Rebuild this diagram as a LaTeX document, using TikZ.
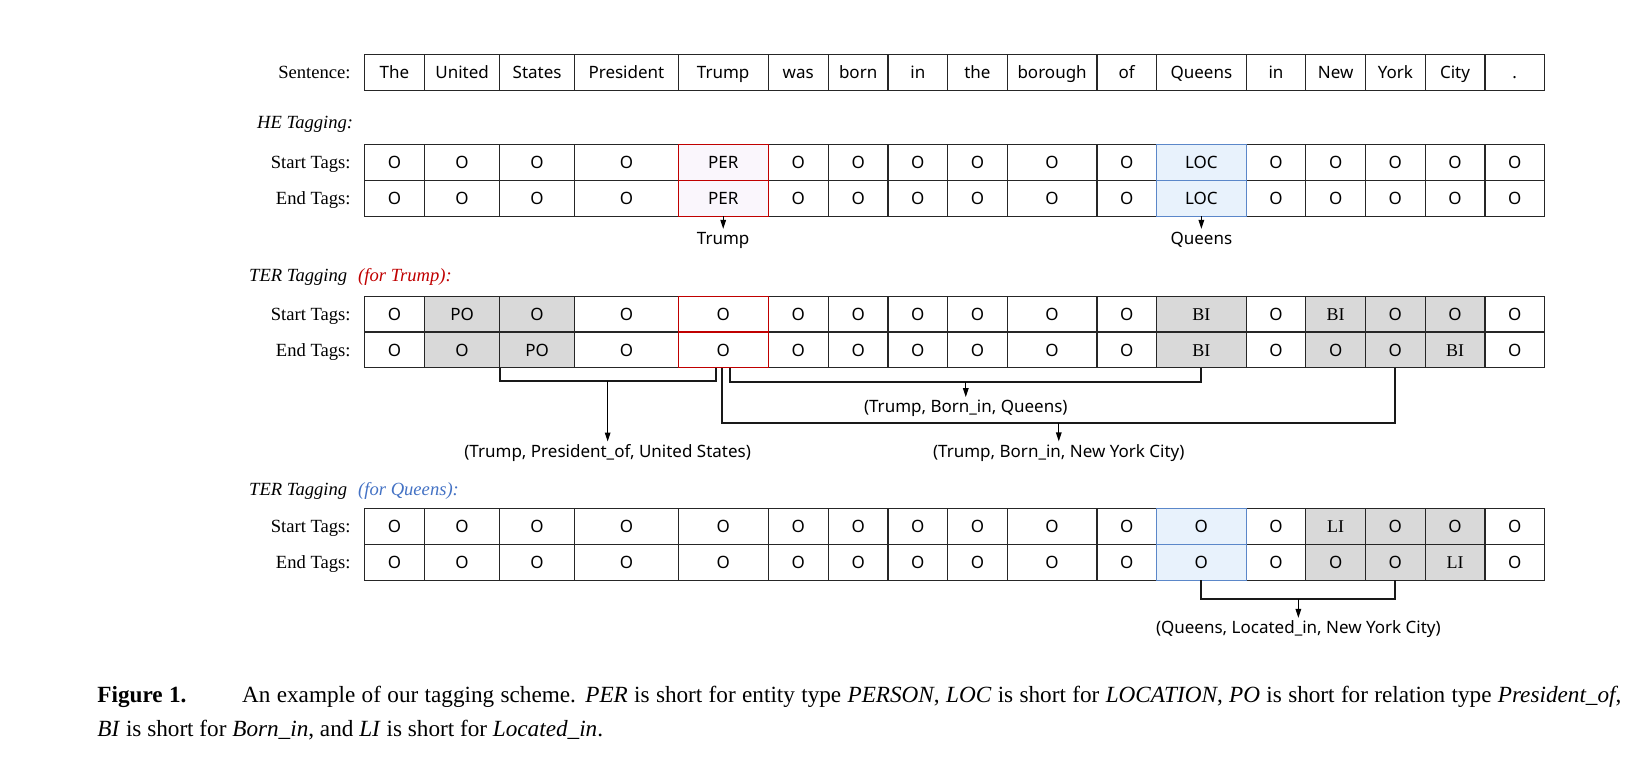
\documentclass[tikz,border=0pt]{standalone}
\usepackage{fontspec}
\setmainfont{Liberation Serif}
\newfontfamily\cellfont{Noto Sans}
\usetikzlibrary{calc,arrows.meta}
\definecolor{gC}{HTML}{D9D9D9}
\definecolor{pC}{HTML}{FAF6FC}
\definecolor{bC}{HTML}{E8F2FC}
\definecolor{rL}{HTML}{C00000}
\definecolor{bL}{HTML}{5B87C9}
\definecolor{bT}{HTML}{4472C4}
\def\XB{{364.3,424.6,499.6,574.6,678.2,768.2,828.3,888,947.6,1007.3,1096.9,1156.6,1246.1,1305.8,1365.5,1425.2,1484.9,1544.6}}
\newcommand\tagrow[3]{%
  \foreach \f/\t [count=\i] in {#3}{%
    \pgfmathsetmacro\xl{\XB[\i-1]}%
    \pgfmathsetmacro\xr{\XB[\i]}%
    \pgfmathsetmacro\w{(\xr-\xl)*0.5}%
    \pgfmathsetmacro\xc{(\xr+\xl)/2}%
    \node[cellbase, fill=\f, minimum width=\w pt] (#1-\i) at (\xc,#2) {\t};
  }}
\newcommand\serifcell[1]{{\rmfamily\fontsize{9}{10}\selectfont #1}}
\begin{document}
\begin{tikzpicture}[x=0.5pt,y=-0.5pt,
  cellbase/.style={draw=black!85, line width=0.6pt, inner sep=0pt, outer sep=0pt,
    minimum height=17.9pt, font=\cellfont\fontsize{8.5}{10}\selectfont,
    text height=6.1pt, text depth=0pt},
  rowlbl/.style={anchor=east, inner sep=0pt, font=\fontsize{9.3}{11}\selectfont,
    text height=6.2pt, text depth=0pt},
  seclbl/.style={anchor=west, inner sep=0pt, font=\itshape\fontsize{9.3}{11}\selectfont,
    text height=6.2pt, text depth=0pt},
  lbl/.style={inner sep=1.5pt, font=\cellfont\fontsize{8.5}{10}\selectfont,
    text height=6.1pt, text depth=1.8pt},
  br/.style={line width=0.9pt, draw=black!90},
  arr/.style={line width=0.6pt, -{Triangle[length=4.5pt,width=2.8pt]}},
  hl/.style={line width=0.6pt}
]
\useasboundingbox (0,0) rectangle (1642,766);

% ---------------- sentence row
\node[rowlbl] (lS) at (351,72.5) {Sentence:};
\tagrow{S}{72.5}{white/The,white/United,white/States,white/President,white/Trump,white/was,white/born,white/in,white/the,white/borough,white/of,white/Queens,white/in,white/New,white/York,white/City,white/.}

% ---------------- HE tagging
\node[seclbl] (lHE) at (256.8,122) {HE Tagging:};
\node[rowlbl] (lHS) at (351,162.5) {Start Tags:};
\node[rowlbl] (lHEnd) at (351,198.3) {End Tags:};
\tagrow{HS}{162.5}{white/O,white/O,white/O,white/O,pC/PER,white/O,white/O,white/O,white/O,white/O,white/O,bC/LOC,white/O,white/O,white/O,white/O,white/O}
\tagrow{HE}{198.3}{white/O,white/O,white/O,white/O,pC/PER,white/O,white/O,white/O,white/O,white/O,white/O,bC/LOC,white/O,white/O,white/O,white/O,white/O}

% ---------------- TER tagging for Trump
\node[seclbl] (lTT) at (248.8,275) {TER Tagging\hspace{5.5pt}\textcolor{rL}{(for Trump):}};
\node[rowlbl] (lTS) at (351,314.1) {Start Tags:};
\node[rowlbl] (lTE) at (351,349.9) {End Tags:};
\tagrow{TS}{314.1}{white/O,gC/PO,gC/O,white/O,white/O,white/O,white/O,white/O,white/O,white/O,white/O,gC/\serifcell{BI},white/O,gC/\serifcell{BI},gC/O,gC/O,white/O}
\tagrow{TE}{349.9}{white/O,gC/O,gC/PO,white/O,white/O,white/O,white/O,white/O,white/O,white/O,white/O,gC/\serifcell{BI},white/O,gC/O,gC/O,gC/\serifcell{BI},white/O}

% ---------------- TER tagging for Queens
\node[seclbl] (lTQ) at (248.8,489) {TER Tagging\hspace{5.5pt}\textcolor{bT}{(for Queens):}};
\node[rowlbl] (lQS) at (351,526.5) {Start Tags:};
\node[rowlbl] (lQE) at (351,562.3) {End Tags:};
\tagrow{QS}{526.5}{white/O,white/O,white/O,white/O,white/O,white/O,white/O,white/O,white/O,white/O,white/O,bC/O,white/O,gC/\serifcell{LI},gC/O,gC/O,white/O}
\tagrow{QE}{562.3}{white/O,white/O,white/O,white/O,white/O,white/O,white/O,white/O,white/O,white/O,white/O,bC/O,white/O,gC/O,gC/O,gC/\serifcell{LI},white/O}

% coloured borders on top
\foreach \n/\c in {HS-5/rL,HE-5/rL,TS-5/rL,TE-5/rL,HS-12/bL,HE-12/bL,QS-12/bL,QE-12/bL}
  \draw[hl, draw=\c] (\n.north west) rectangle (\n.south east);

% ---------------- HE arrows
\node[lbl] (tTrump) at ($(HE-5.south)+(0,24)$) {Trump};
\node[lbl] (tQueens) at ($(HE-12.south)+(0,24)$) {Queens};
\draw[arr] (HE-5.south) -- (tTrump.north);
\draw[arr] (HE-12.south) -- (tQueens.north);

% ---------------- Trump brackets
\coordinate (poA) at ($(TE-2.south east)+(0,13)$);
\coordinate (poB) at ($(TE-5.south)+(-7.5,13)$);
\coordinate (poM) at ($(poA)!0.5!(poB)$);
\draw[br] (TE-2.south east) -- (poA) -- (poB) -- (poB |- TE-5.south);
\node[lbl] (lPO) at ($(poM)+(0,72)$) {(Trump, President\_of, United States)};
\draw[arr] (poM) -- (lPO.north);

\coordinate (qbA) at ($(TE-5.south)+(7,14)$);
\coordinate (qbB) at ($(TE-12.south)+(0,14)$);
\coordinate (qbM) at ($(qbA)!0.5!(qbB)$);
\draw[br] (qbA |- TE-5.south) -- (qbA) -- (qbB) -- (TE-12.south);
\node[lbl] (lBQ) at ($(qbM)+(0,26.5)$) {(Trump, Born\_in, Queens)};
\draw[arr] (qbM) -- (lBQ.north);

\coordinate (nyA) at ($(TE-5.south)+(-1,55.5)$);
\coordinate (nyB) at ($(TE-15.south)+(0,55.5)$);
\coordinate (nyM) at ($(nyA)!0.5!(nyB)$);
\draw[br] (nyA |- TE-5.south) -- (nyA) -- (nyB) -- (TE-15.south);
\node[lbl] (lBN) at ($(nyM)+(0,29.4)$) {(Trump, Born\_in, New York City)};
\draw[arr] (nyM) -- (lBN.north);

% ---------------- Queens bracket
\coordinate (lqA) at ($(QE-12.south)+(0,19)$);
\coordinate (lqB) at ($(QE-15.south)+(0,19)$);
\coordinate (lqM) at ($(lqA)!0.5!(lqB)$);
\draw[br] (QE-12.south) -- (lqA) -- (lqB) -- (QE-15.south);
\node[lbl] (lLQ) at ($(lqM)+(0,30)$) {(Queens, Located\_in, New York City)};
\draw[arr] (lqM) -- (lLQ.north);

% ---------------- caption
\node[anchor=base west, inner sep=0pt] (cap1) at (97,702) {\fontsize{11.6}{14}\selectfont\makebox[762pt][s]{\textbf{Figure 1.}\hspace{2.4em}An example of our tagging scheme. \textit{PER} is short for entity type \textit{PERSON}, \textit{LOC} is short for \textit{LOCATION}, \textit{PO} is short for relation type \textit{President\_of},}};
\node[anchor=base west, inner sep=0pt] (cap2) at (97,736) {\fontsize{11.6}{14}\selectfont \textit{BI} is short for \textit{Born\_in}, and \textit{LI} is short for \textit{Located\_in}.};
\end{tikzpicture}
\end{document}
